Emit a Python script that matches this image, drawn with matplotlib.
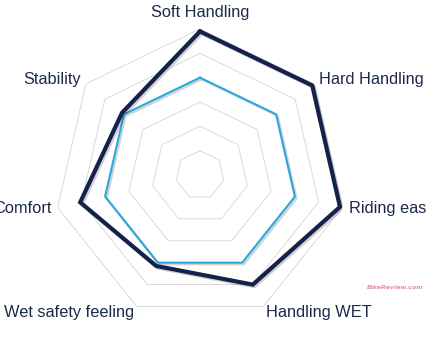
import numpy as np
import matplotlib
matplotlib.use("Agg")
import matplotlib.pyplot as plt
import matplotlib.patheffects as pe

# 雷达图数据（0-6 刻度，从图上读取）
labels = ["Soft Handling", "Hard Handling", "Riding ease", "Handling WET",
          "Wet safety feeling", "Comfort", "Stability"]
new_tyre = [5.9, 5.9, 5.9, 5.0, 4.15, 5.05, 4.1]   # 深蓝粗线
old_tyre = [4.0, 4.0, 4.0, 4.0, 4.0, 4.0, 4.0]     # 浅蓝细线
rings = [1, 2, 3, 4, 5, 6]

navy = "#14214a"
light = "#2aa7df"
text_c = "#1c2a4a"

n = len(labels)
theta = np.linspace(0, 2*np.pi, n, endpoint=False)
theta_c = np.append(theta, theta[0])

fig = plt.figure(figsize=(4.26, 3.51), dpi=100)
ax = fig.add_axes([0.1268, 0.0855, 0.6854, 0.8319], projection="polar")
ax.set_theta_offset(np.pi/2)
ax.set_theta_direction(-1)
ax.set_ylim(0, 6)
ax.grid(False)
ax.spines["polar"].set_visible(False)
ax.set_xticks([])
ax.set_yticks([])
ax.patch.set_alpha(0)

# 七边形网格
for r in rings:
    ax.plot(theta_c, [r]*(n+1), color="#d4d4d4", lw=0.6, zorder=1)

shadow = [pe.SimpleLineShadow(offset=(1.2, -1.2), alpha=0.18, rho=0.5), pe.Normal()]
ax.plot(theta_c, old_tyre + old_tyre[:1], color=light, lw=1.5, zorder=3,
        path_effects=shadow)
ax.plot(theta_c, new_tyre + new_tyre[:1], color=navy, lw=3.0, zorder=4,
        solid_joinstyle="miter", path_effects=shadow)

# 标签
fs = 11.8
ax.text(theta[0], 6.66, labels[0], ha="center", va="center", fontsize=fs,
        color=text_c, family="Liberation Sans")
for i in range(1, n):
    ha = "left" if np.sin(theta[i]) > 0 else "right"
    ax.text(theta[i], 6.27, labels[i], ha=ha, va="center", fontsize=fs,
            color=text_c, family="Liberation Sans", clip_on=False)

# 水印
fig.text(0.995, 0.18, "BikeReview.com", ha="right", va="center", fontsize=4.5,
         color="#e57a86", style="italic", weight="bold", alpha=0.85)

fig.savefig("out.png", dpi=100)
